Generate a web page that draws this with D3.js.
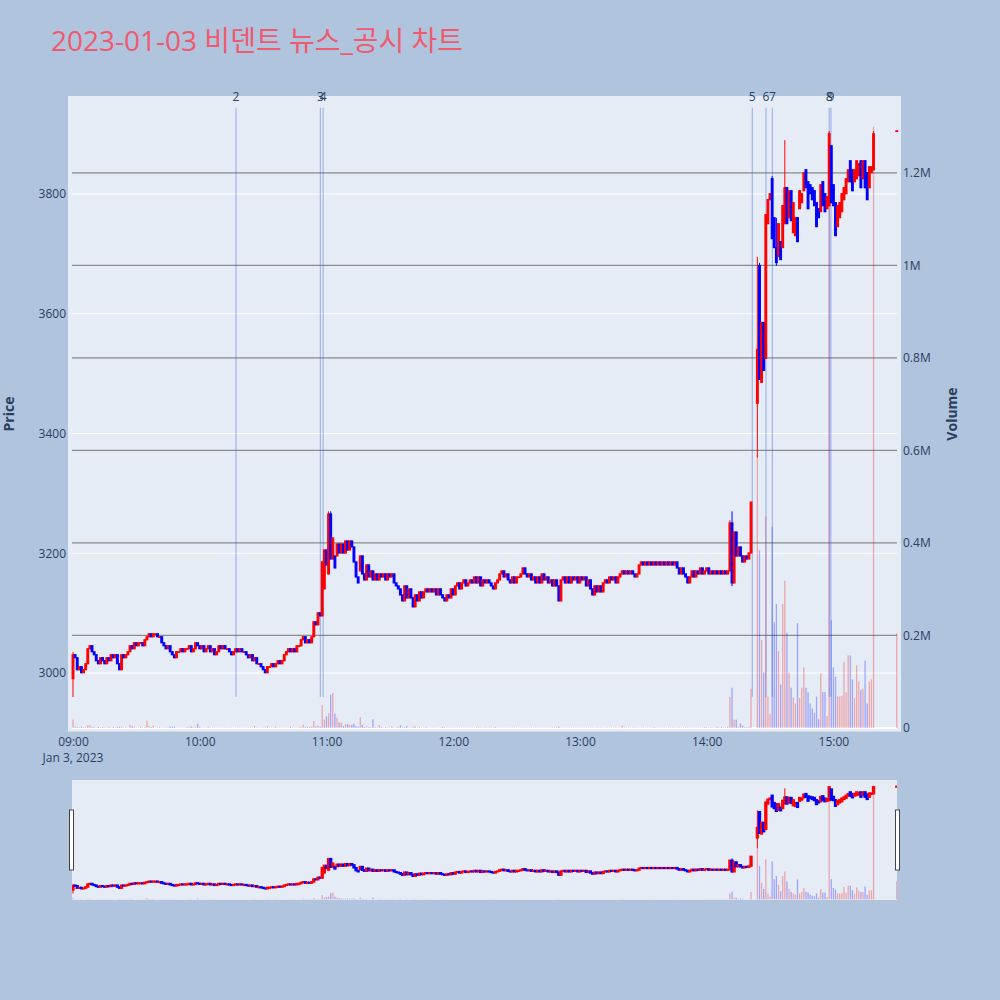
<!DOCTYPE html>
<html>
<head>
<meta charset="utf-8">
<script src="https://cdn.jsdelivr.net/npm/d3@7"></script>
<style>
  body { margin: 0; background: #b0c4de; }
  text { font-family: "Open Sans", "Noto Sans CJK KR", sans-serif; }
</style>
</head>
<body>
<div id="chart"></div>
<script>
// Minute closes from 09:00 (index = minutes after open), null = no trade
var closes = [
  3030, 3025, 3005, 3010, 3000, 3005, 3015, 3040, 3045, 3035,
  3030, 3020, 3015, 3025, 3020, 3015, 3025, 3020, 3030, 3025,
  3030, 3015, 3005, 3030, 3025, 3030, 3035, 3045, 3040, 3050,
  3045, 3050, 3050, 3045, 3055, 3060, 3065, 3060, 3065, 3065,
  3060, 3060, 3050, 3045, 3040, 3045, 3035, 3030, 3025, 3035,
  3035, 3040, 3035, 3040, 3040, 3045, 3035, 3040, 3050, 3045,
  3040, 3045, 3035, 3040, 3045, 3035, 3040, 3030, 3035, 3045,
  3040, 3045, 3040, 3040, 3035, 3030, 3035, 3040, 3035, 3040,
  3035, 3035, 3030, 3025, 3030, 3020, 3025, 3015, 3015, 3010,
  3005, 3000, 3010, 3010, 3015, 3010, 3015, 3020, 3015, 3020,
  3030, 3035, 3040, 3035, 3040, 3035, 3045, 3045, 3055, 3060,
  3050, 3055, 3050, 3060, 3085, 3080, 3100, 3095, 3185, 3205,
  3180, 3265, 3190, 3225, 3175, 3215, 3200, 3215, 3200, 3220,
  3205, 3220, 3210, 3185, 3160, 3150, 3195, 3165, 3155, 3180,
  3160, 3170, 3155, 3165, 3155, 3165, 3160, 3165, 3155, 3165,
  3160, 3165, 3150, 3145, 3140, 3130, 3120, 3145, 3125, 3140,
  3125, 3110, 3130, 3120, 3135, 3125, 3135, 3140, 3135, 3140,
  3135, 3140, 3130, 3140, 3130, 3125, 3120, 3130, 3125, 3140,
  3130, 3145, 3150, 3140, 3150, 3155, 3145, 3150, 3155, 3150,
  3160, 3150, 3160, 3145, 3155, 3150, 3155, 3150, 3145, 3140,
  3150, 3155, 3165, 3170, 3160, 3165, 3155, 3150, 3160, 3150,
  3160, 3160, 3165, 3175, 3165, 3160, 3165, 3155, 3160, 3150,
  3160, 3150, 3165, 3155, 3160, 3150, 3155, 3145, 3155, 3145,
  3120, 3155, 3160, 3150, 3160, 3150, 3160, 3155, 3160, 3150,
  3160, 3155, 3160, 3145, 3155, 3140, 3130, 3145, 3135, 3145,
  3135, 3150, 3155, 3150, 3160, 3155, 3160, 3150, 3160, 3165,
  3170, 3165, 3170, 3165, 3170, 3165, 3160, 3165, 3180, 3185,
  3180, 3185, 3180, 3185, 3180, 3185, 3180, 3185, 3180, 3185,
  3180, 3185, 3180, 3185, 3180, 3185, 3175, 3165, 3175, 3165,
  3160, 3150, 3160, 3170, 3160, 3170, 3165, 3175, 3165, 3170,
  3175, 3165, 3170, 3165, 3170, 3165, 3170, 3165, 3170, 3165,
  3170, 3250, 3150, 3235, 3195, 3210, 3195, 3185, 3195, 3190,
  3200, 3285, null, null, 3540, 3490, 3585, 3505, 3765, 3790,
  3800, 3725, 3710, 3685, 3750, 3690, 3780, 3810, 3750, 3805,
  3755, 3785, 3760, 3720, 3805, 3800, 3835, 3810, 3775, 3800,
  3790, 3780, 3745, 3760, 3815, 3780, 3770, 3795, 3900, 3785,
  3780, 3730, 3780, 3785, 3800, 3810, 3825, 3840, 3820, 3805,
  3840, 3855, 3850, 3810, 3855, 3810, 3790, 3845, 3845, 3900,
  null, null, null, null, null, null, null, null, null, null,
  3905
];

// Opens that differ from the previous close (gaps)
var openGaps = {
  0: 2990, 119: 3140, 121: 3165, 124: 3195, 125: 3195, 136: 3170,
  324: 3450, 325: 3680, 326: 3485, 328: 3525, 329: 3750, 331: 3825,
  332: 3760, 334: 3695, 335: 3720, 336: 3710, 337: 3750, 339: 3760,
  341: 3735, 342: 3730, 344: 3775, 345: 3785, 346: 3805, 347: 3840,
  348: 3820, 349: 3815, 350: 3810, 351: 3805, 352: 3785, 353: 3775,
  354: 3770, 355: 3820, 356: 3800, 357: 3775, 358: 3780, 359: 3880,
  360: 3815, 361: 3785, 362: 3745, 363: 3760, 364: 3770, 365: 3790,
  366: 3800, 367: 3820, 368: 3855, 369: 3840, 370: 3820, 371: 3825,
  372: 3830, 373: 3855, 374: 3825, 375: 3855, 376: 3835, 377: 3810,
  378: 3835, 379: 3840, 390: 3905
};

// Wicks beyond the candle body: [high, low]
var wicks = {
  0: [3035, 2960], 119: [3205, 3140], 121: [3270, 3165], 122: [3270, 3190],
  311: [3255, 3170], 312: [3270, 3145], 324: [3695, 3360], 325: [3685, 3490],
  331: [3830, 3725], 333: [3760, 3680], 337: [3890, 3750], 358: [3905, 3780],
  379: [3905, 3840]
};

// Volume per minute, thousands of shares
var volumesK = [
  18, 3, 2, 2, 3, 2, 2, 6, 6, 2,
  2, 1, 2, 1, 2, 1, 1, 2, 1, 2,
  1, 2, 3, 3, 1, 2, 1, 7, 4, 2,
  1, 1, 2, 1, 2, 16, 4, 2, 5, 1,
  1, 2, 1, 1, 1, 2, 3, 3, 3, 1,
  1, 1, 1, 1, 2, 3, 3, 2, 3, 9,
  2, 1, 1, 1, 3, 1, 1, 1, 1, 1,
  1, 1, 1, 1, 1, 1, 1, 1, 1, 1,
  1, 1, 1, 1, 1, 1, 4, 1, 1, 1,
  1, 1, 4, 1, 1, 1, 3, 1, 1, 1,
  1, 1, 1, 3, 1, 1, 1, 2, 2, 7,
  2, 3, 2, 3, 15, 3, 5, 3, 49, 18,
  25, 32, 72, 76, 31, 22, 12, 12, 4, 9,
  9, 7, 7, 9, 4, 3, 23, 7, 2, 4,
  2, 2, 19, 2, 1, 6, 2, 1, 2, 1,
  1, 4, 1, 1, 2, 6, 1, 2, 4, 1,
  1, 2, 4, 1, 2, 1, 1, 2, 1, 1,
  1, 1, 1, 1, 1, 2, 1, 1, 1, 1,
  1, 1, 1, 1, 1, 1, 1, 1, 1, 1,
  1, 1, 2, 1, 1, 1, 1, 1, 1, 1,
  2, 1, 1, 1, 1, 1, 1, 1, 1, 1,
  1, 1, 1, 1, 1, 1, 1, 1, 1, 1,
  1, 1, 1, 1, 1, 1, 1, 1, 1, 1,
  3, 1, 1, 1, 1, 1, 1, 1, 1, 1,
  1, 1, 1, 1, 1, 1, 1, 1, 1, 1,
  1, 1, 1, 1, 1, 1, 1, 1, 1, 1,
  5, 1, 1, 1, 1, 1, 1, 1, 1, 1,
  1, 1, 1, 1, 1, 2, 1, 1, 1, 1,
  1, 1, 1, 1, 1, 1, 1, 1, 1, 1,
  1, 1, 1, 1, 1, 1, 1, 1, 1, 2,
  2, 1, 2, 1, 1, 2, 1, 2, 1, 1,
  2, 67, 87, 18, 18, 3, 10, 5, 2, 2,
  3, 85, 0, 0, 590, 384, 190, 120, 457, 68,
  30, 435, 229, 268, 166, 94, 268, 318, 205, 120,
  87, 66, 53, 227, 65, 87, 131, 87, 77, 53,
  42, 33, 68, 20, 118, 78, 78, 26, 1290, 233,
  131, 111, 68, 68, 70, 142, 77, 157, 157, 105,
  64, 135, 100, 82, 85, 146, 53, 100, 105, 1300,
  0, 0, 0, 0, 0, 0, 0, 0, 0, 0,
  205
];

// News / disclosure markers
var eventLabels = ["2", "3", "4", "5", "6", "7", "8", "9"];
var eventTimes = ["10:17:10", "10:57:05", "10:58:25", "14:21:35", "14:28:05", "14:31:05", "14:58:00", "14:58:50"];
var eventRange = [2960, 3944];

var priceTicks = [3000, 3200, 3400, 3600, 3800];
var volumeTicks = [0, 200000, 400000, 600000, 800000, 1000000, 1200000];
var volumeTickLabels = ["0", "0.2M", "0.4M", "0.6M", "0.8M", "1M", "1.2M"];

var titleText = "2023-01-03 비덴트 뉴스_공시 차트";

window.onload = drawChart;

function drawChart() {
    var width = 1000, height = 1000;
    var plot = { left: 68, right: 901, top: 96, bottom: 731.5 };
    var grid = { left: 72, right: 897 };
    var slider = { left: 72, right: 897, top: 780, bottom: 900 };

    var parseTime = d3.timeParse("%Y-%m-%d %H:%M:%S");
    var open = parseTime("2023-01-03 09:00:00");
    function minuteTime(m) { return new Date(+open + m * 60000); }

    // Build candle records from the arrays
    var candles = [];
    closes.forEach(function (c, i) {
        if (c === null) return;
        var o = (i in openGaps) ? openGaps[i] : closes[i - 1];
        var hl = wicks[i] || [Math.max(o, c), Math.min(o, c)];
        candles.push({ t: minuteTime(i), o: o, c: c, h: hl[0], l: hl[1], up: c >= o, v: volumesK[i] * 1000 });
    });

    var x = d3.scaleTime()
        .domain([minuteTime(-2.37), minuteTime(392)])
        .range([plot.left, plot.right]);
    var yPrice = d3.scaleLinear().domain([2902.3, 3963.7]).range([plot.bottom, plot.top]);
    var yVol = d3.scaleLinear().domain([-7600, 1366000]).range([plot.bottom, plot.top]);
    var yPriceS = d3.scaleLinear().domain(yPrice.domain()).range([slider.bottom, slider.top]);
    var yVolS = d3.scaleLinear().domain(yVol.domain()).range([slider.bottom, slider.top]);

    var svg = d3.select("#chart").append("svg")
        .attr("width", width)
        .attr("height", height);

    svg.append("rect").attr("width", width).attr("height", height).attr("fill", "#b0c4de");

    var defs = svg.append("defs");
    defs.append("clipPath").attr("id", "clipMain").append("rect")
        .attr("x", plot.left).attr("y", plot.top)
        .attr("width", plot.right - plot.left).attr("height", plot.bottom - plot.top);
    defs.append("clipPath").attr("id", "clipSlider").append("rect")
        .attr("x", slider.left).attr("y", slider.top)
        .attr("width", slider.right - slider.left).attr("height", slider.bottom - slider.top);

    // Title
    svg.append("text")
        .attr("x", 51).attr("y", 51)
        .style("font-size", "28px")
        .style("fill", "#ef5a6e")
        .text(titleText);

    // Plot background
    svg.append("rect")
        .attr("x", plot.left).attr("y", plot.top)
        .attr("width", plot.right - plot.left).attr("height", plot.bottom - plot.top)
        .attr("fill", "#e5ecf6");

    // Price gridlines (white)
    svg.selectAll(".pgrid").data(priceTicks).enter().append("line")
        .attr("x1", grid.left).attr("x2", grid.right)
        .attr("y1", function (d) { return yPrice(d); })
        .attr("y2", function (d) { return yPrice(d); })
        .attr("stroke", "#ffffff").attr("stroke-width", 1);

    // Volume gridlines (gray)
    svg.selectAll(".vgrid").data(volumeTicks.slice(1)).enter().append("line")
        .attr("x1", grid.left).attr("x2", grid.right)
        .attr("y1", function (d) { return yVol(d); })
        .attr("y2", function (d) { return yVol(d); })
        .attr("stroke", "#8a8a8a").attr("stroke-width", 1.2);

    svg.append("line")
        .attr("x1", grid.left).attr("x2", grid.right)
        .attr("y1", yVol(0)).attr("y2", yVol(0))
        .attr("stroke", "#ffffff").attr("stroke-width", 2);

    var main = svg.append("g").attr("clip-path", "url(#clipMain)");

    // Volume bars
    main.selectAll(".vol").data(candles.filter(function (d) { return d.v > 0; })).enter().append("rect")
        .attr("x", function (d) { return x(d.t) - 0.65; })
        .attr("width", 1.3)
        .attr("y", function (d) { return yVol(d.v); })
        .attr("height", function (d) { return yVol(0) - yVol(d.v); })
        .attr("fill", function (d) { return d.up ? "rgba(255,0,0,0.3)" : "rgba(0,0,255,0.3)"; });

    // Event lines and labels
    var events = eventTimes.map(function (s, i) {
        return { t: parseTime("2023-01-03 " + s), label: eventLabels[i] };
    });
    main.selectAll(".event").data(events).enter().append("line")
        .attr("x1", function (d) { return x(d.t); })
        .attr("x2", function (d) { return x(d.t); })
        .attr("y1", yPrice(eventRange[0]))
        .attr("y2", yPrice(eventRange[1]))
        .attr("stroke", "rgba(65,105,225,0.5)")
        .attr("stroke-width", 1);
    svg.selectAll(".elabel").data(events).enter().append("text")
        .attr("x", function (d) { return x(d.t); })
        .attr("y", yPrice(eventRange[1]) - 7)
        .attr("text-anchor", "middle")
        .style("font-size", "12px")
        .style("fill", "#2a3f5f")
        .text(function (d) { return d.label; });

    // Candles
    drawCandles(main, candles, x, yPrice, 1.7, 1.2);

    // Axes
    var yAxisL = d3.axisLeft(yPrice).tickValues(priceTicks).tickSize(0).tickPadding(2)
        .tickFormat(d3.format("d"));
    var gL = svg.append("g").attr("transform", "translate(" + plot.left + ",0)").call(yAxisL);
    styleAxis(gL);

    var yAxisR = d3.axisRight(yVol).tickValues(volumeTicks).tickSize(0).tickPadding(2)
        .tickFormat(function (d, i) { return volumeTickLabels[i]; });
    var gR = svg.append("g").attr("transform", "translate(" + plot.right + ",0)").call(yAxisR);
    styleAxis(gR);

    var xAxis = d3.axisBottom(x).ticks(d3.timeHour.every(1)).tickSize(0).tickPadding(6)
        .tickFormat(d3.timeFormat("%H:%M"));
    var gX = svg.append("g").attr("transform", "translate(0," + plot.bottom + ")").call(xAxis);
    styleAxis(gX);

    svg.append("text")
        .attr("x", x(open)).attr("y", 762)
        .attr("text-anchor", "middle")
        .style("font-size", "12px")
        .style("fill", "#2a3f5f")
        .text("Jan 3, 2023");

    // Axis titles
    svg.append("text")
        .attr("transform", "translate(14,414) rotate(-90)")
        .attr("text-anchor", "middle")
        .style("font-size", "14px").style("font-weight", "bold")
        .style("fill", "#2a3f5f")
        .text("Price");
    svg.append("text")
        .attr("transform", "translate(957,414) rotate(-90)")
        .attr("text-anchor", "middle")
        .style("font-size", "14px").style("font-weight", "bold")
        .style("fill", "#2a3f5f")
        .text("Volume");

    // Range slider
    svg.append("rect")
        .attr("x", slider.left).attr("y", slider.top)
        .attr("width", slider.right - slider.left).attr("height", slider.bottom - slider.top)
        .attr("fill", "#e5ecf6");
    var sl = svg.append("g").attr("clip-path", "url(#clipSlider)");
    sl.selectAll(".svol").data(candles.filter(function (d) { return d.v > 0; })).enter().append("rect")
        .attr("x", function (d) { return x(d.t) - 0.65; })
        .attr("width", 1.3)
        .attr("y", function (d) { return yVolS(d.v); })
        .attr("height", function (d) { return yVolS(0) - yVolS(d.v); })
        .attr("fill", function (d) { return d.up ? "rgba(255,0,0,0.3)" : "rgba(0,0,255,0.3)"; });
    drawCandles(sl, candles, x, yPriceS, 1.7, 1.6);

    [slider.left - 2.5, slider.right - 1.5].forEach(function (hx) {
        svg.append("rect")
            .attr("x", hx).attr("y", 810)
            .attr("width", 4).attr("height", 60)
            .attr("fill", "#ffffff").attr("stroke", "#444").attr("stroke-width", 1);
    });
}

function drawCandles(g, data, x, y, bodyWidth, lineWidth) {
    var color = function (d) { return d.up ? "#ff0000" : "#0000ff"; };
    g.selectAll(null).data(data).enter().append("line")
        .attr("x1", function (d) { return x(d.t); })
        .attr("x2", function (d) { return x(d.t); })
        .attr("y1", function (d) { return y(d.h); })
        .attr("y2", function (d) { return y(d.l); })
        .attr("stroke", color).attr("stroke-width", 1);
    // Bodies keep a small minimum height so flat candles stay visible
    g.selectAll(null).data(data).enter().append("rect")
        .attr("x", function (d) { return x(d.t) - bodyWidth / 2; })
        .attr("width", bodyWidth)
        .attr("y", function (d) { return y(Math.max(d.o, d.c)) - 0.3; })
        .attr("height", function (d) { return Math.max(Math.abs(y(d.o) - y(d.c)), 0.6); })
        .attr("fill", color)
        .attr("stroke", color).attr("stroke-width", lineWidth);
}

function styleAxis(g) {
    g.select(".domain").remove();
    g.selectAll("text")
        .style("font-size", "12px")
        .style("font-family", "\"Open Sans\", sans-serif")
        .style("fill", "#2a3f5f");
}
</script>
</body>
</html>
